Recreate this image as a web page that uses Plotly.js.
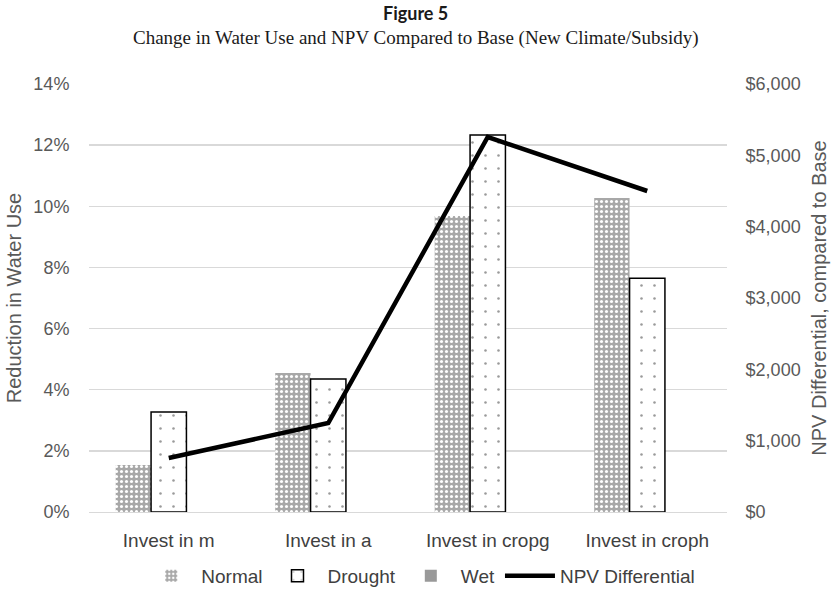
<!DOCTYPE html>
<html>
<head>
<meta charset="utf-8">
<script src="https://cdn.plot.ly/plotly-3.0.1.min.js"></script>
<style>html,body{margin:0;padding:0;background:#fff;}#chart{width:831px;height:589px;}</style>
</head>
<body>
<div id="chart"></div>
<script>
const categories = ["Invest in m", "Invest in a", "Invest in cropg", "Invest in croph"];
const normalVals = [0.0154, 0.0455, 0.0968, 0.1027];
const droughtVals = [0.0327, 0.0435, 0.1233, 0.0765];
const wetVals = [0, 0, 0, 0];
const npvVals = [757, 1248, 5257, 4500];

const fontSans = "'Liberation Sans', Arial, sans-serif";

const traces = [
  {
    type: "bar", name: "Normal", x: categories, y: normalVals,
    marker: {color: "#b3b3b3", line: {width: 0},
      pattern: {shape: ".", fgcolor: "#ffffff", bgcolor: "#a8a8a8", size: 5, solidity: 0.3, fillmode: "replace"}}
  },
  {
    type: "bar", name: "Drought", x: categories, y: droughtVals,
    marker: {color: "#ffffff", line: {color: "#000000", width: 1.5},
      pattern: {shape: ".", fgcolor: "#9a9a9a", bgcolor: "#ffffff", size: 13, solidity: 0.03, fillmode: "replace"}}
  },
  {
    type: "bar", name: "Wet", x: categories, y: wetVals,
    marker: {color: "#999999", line: {width: 0}}
  },
  {
    type: "scatter", mode: "lines", name: "NPV Differential", x: categories, y: npvVals,
    yaxis: "y2", line: {color: "#000000", width: 4.5}
  }
];

const layout = {
  width: 831, height: 589,
  margin: {l: 89, r: 104, t: 84, b: 77, autoexpand: false},
  paper_bgcolor: "#ffffff", plot_bgcolor: "#ffffff",
  font: {family: fontSans, color: "#595959", size: 18},
  barmode: "group", bargap: 0.335, bargroupgap: 0,
  showlegend: true,
  legend: {orientation: "h", x: 0.52, xanchor: "center", y: -0.1495, yanchor: "middle",
    font: {family: fontSans, size: 19, color: "#404040"}, itemwidth: 50, traceorder: "normal"},
  xaxis: {
    showgrid: false, zeroline: false, showline: true, linecolor: "#d9d9d9", linewidth: 1,
    tickfont: {family: fontSans, size: 19, color: "#404040"},
    ticks: "outside", ticklen: 11, tickcolor: "rgba(0,0,0,0)"
  },
  yaxis: {
    range: [0, 0.14], dtick: 0.02, tickformat: ".0%",
    showgrid: true, gridcolor: "#d9d9d9", gridwidth: 1.3, zeroline: false,
    ticks: "outside", ticklen: 15, tickcolor: "rgba(0,0,0,0)",
    tickfont: {family: fontSans, size: 18, color: "#595959"},
    title: {text: "Reduction in Water Use", font: {family: fontSans, size: 20, color: "#595959"}, standoff: 6}
  },
  yaxis2: {
    range: [0, 6000], dtick: 1000, tickformat: ",", tickprefix: "$",
    overlaying: "y", side: "right", showgrid: false, zeroline: false,
    ticks: "outside", ticklen: 14, tickcolor: "rgba(0,0,0,0)",
    tickfont: {family: fontSans, size: 18, color: "#595959"},
    title: {text: "NPV Differential, compared to Base", font: {family: fontSans, size: 20, color: "#595959"}, standoff: 12}
  },
  annotations: [
    {text: "<b>Figure 5</b>", x: 0.5, xref: "paper", y: 13, yref: "paper", showarrow: false,
      font: {family: "Lato, 'Open Sans', sans-serif", size: 18, color: "#1a1a1a"}},
    {text: "Change in Water Use and NPV Compared to Base (New Climate/Subsidy)", x: 0.5, xref: "paper", y: 0, yref: "paper",
      showarrow: false, font: {family: "'Liberation Serif', 'Times New Roman', serif", size: 19, color: "#1a1a1a"}}
  ]
};

const plotH = 589 - 84 - 77;
layout.annotations[0].y = 1 + (84 - 13) / plotH;
layout.annotations[0].yanchor = "middle";
layout.annotations[1].y = 1 + (84 - 38) / plotH;
layout.annotations[1].yanchor = "middle";
layout.annotations[0].x = (416 - 89) / (831 - 89 - 104);
layout.annotations[1].x = (416 - 89) / (831 - 89 - 104);

Plotly.newPlot("chart", traces, layout, {displayModeBar: false, staticPlot: true});
</script>
</body>
</html>
